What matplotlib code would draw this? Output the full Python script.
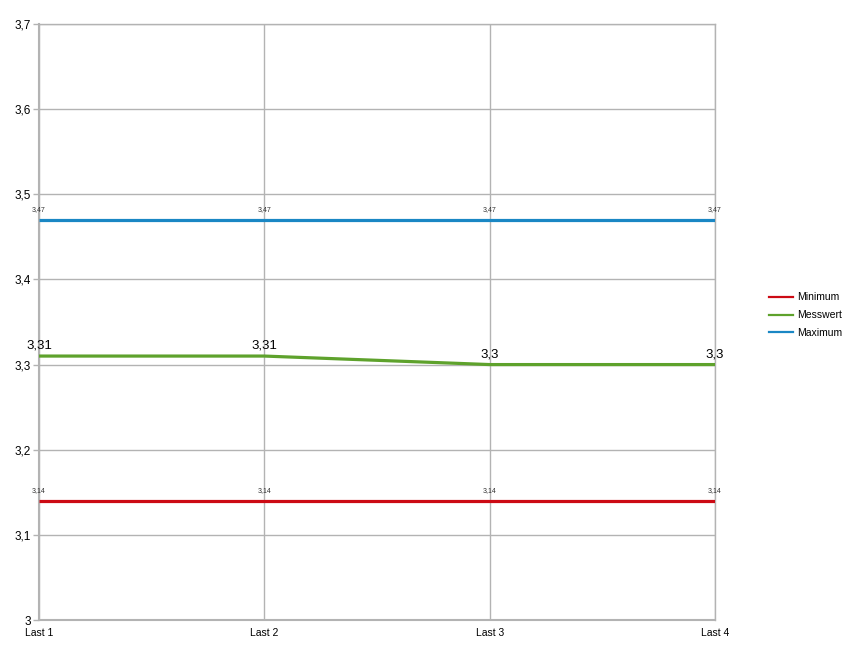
import matplotlib
matplotlib.use("Agg")
import matplotlib.pyplot as plt
from matplotlib.ticker import FuncFormatter
from matplotlib.lines import Line2D

plt.rcParams['font.family'] = ['Liberation Sans', 'DejaVu Sans']

categories = ["Last 1", "Last 2", "Last 3", "Last 4"]
minimum = [3.14, 3.14, 3.14, 3.14]
messwert = [3.31, 3.31, 3.30, 3.30]
maximum = [3.47, 3.47, 3.47, 3.47]
y_ticks = [3.0, 3.1, 3.2, 3.3, 3.4, 3.5, 3.6, 3.7]

W, H = 853, 652
fig = plt.figure(figsize=(W / 100, H / 100), dpi=100)
ax = fig.add_axes([39 / W, (H - 620) / H, (715 - 39) / W, (620 - 24) / H])

def fmt(v):
    s = ("%.2f" % v).rstrip('0').rstrip('.')
    return s.replace('.', ',')

colors = {'Minimum': '#cc0a14', 'Messwert': '#5ea22c', 'Maximum': '#1a87c4'}
x = list(range(len(categories)))
ax.plot(x, minimum, color=colors['Minimum'], lw=2.3, zorder=3, solid_capstyle='butt')
ax.plot(x, messwert, color=colors['Messwert'], lw=2.3, zorder=3, solid_capstyle='butt')
ax.plot(x, maximum, color=colors['Maximum'], lw=2.3, zorder=3, solid_capstyle='butt')

for xi, v in zip(x, minimum):
    ax.annotate(fmt(v), (xi, v), xytext=(0, 5), textcoords='offset points',
                ha='center', va='bottom', fontsize=5, color='#333333')
for xi, v in zip(x, maximum):
    ax.annotate(fmt(v), (xi, v), xytext=(0, 5), textcoords='offset points',
                ha='center', va='bottom', fontsize=5, color='#333333')
for xi, v in zip(x, messwert):
    ax.annotate(fmt(v), (xi, v), xytext=(0, 3), textcoords='offset points',
                ha='center', va='bottom', fontsize=9.5, color='#000000')

ax.set_xlim(0, 3)
ax.set_ylim(3.0, 3.7)
ax.set_xticks(x)
ax.set_xticklabels(categories)
ax.set_yticks(y_ticks)
ax.yaxis.set_major_formatter(FuncFormatter(lambda v, p: fmt(v)))
ax.tick_params(axis='y', labelsize=8.5, colors='#b3b3b3', labelcolor='#000000', length=4, width=1, pad=2)
ax.tick_params(axis='x', labelsize=7.5, length=0, pad=6)
ax.grid(True, color='#b3b3b3', lw=1)
ax.set_axisbelow(True)
for name, s in ax.spines.items():
    s.set_color('#b3b3b3')
    s.set_linewidth(1)
ax.spines['left'].set_linewidth(1.5)
ax.spines['bottom'].set_linewidth(1.5)

handles = [Line2D([], [], color=c, lw=1.6) for c in colors.values()]
leg = fig.legend(handles, list(colors.keys()), loc='upper left',
                 bbox_to_anchor=(760 / W, 1 - 283 / H), frameon=False,
                 fontsize=7.5, handlelength=2.3, handletextpad=0.4, labelspacing=0.75)

fig.savefig('out.png', dpi=100, facecolor='white')
